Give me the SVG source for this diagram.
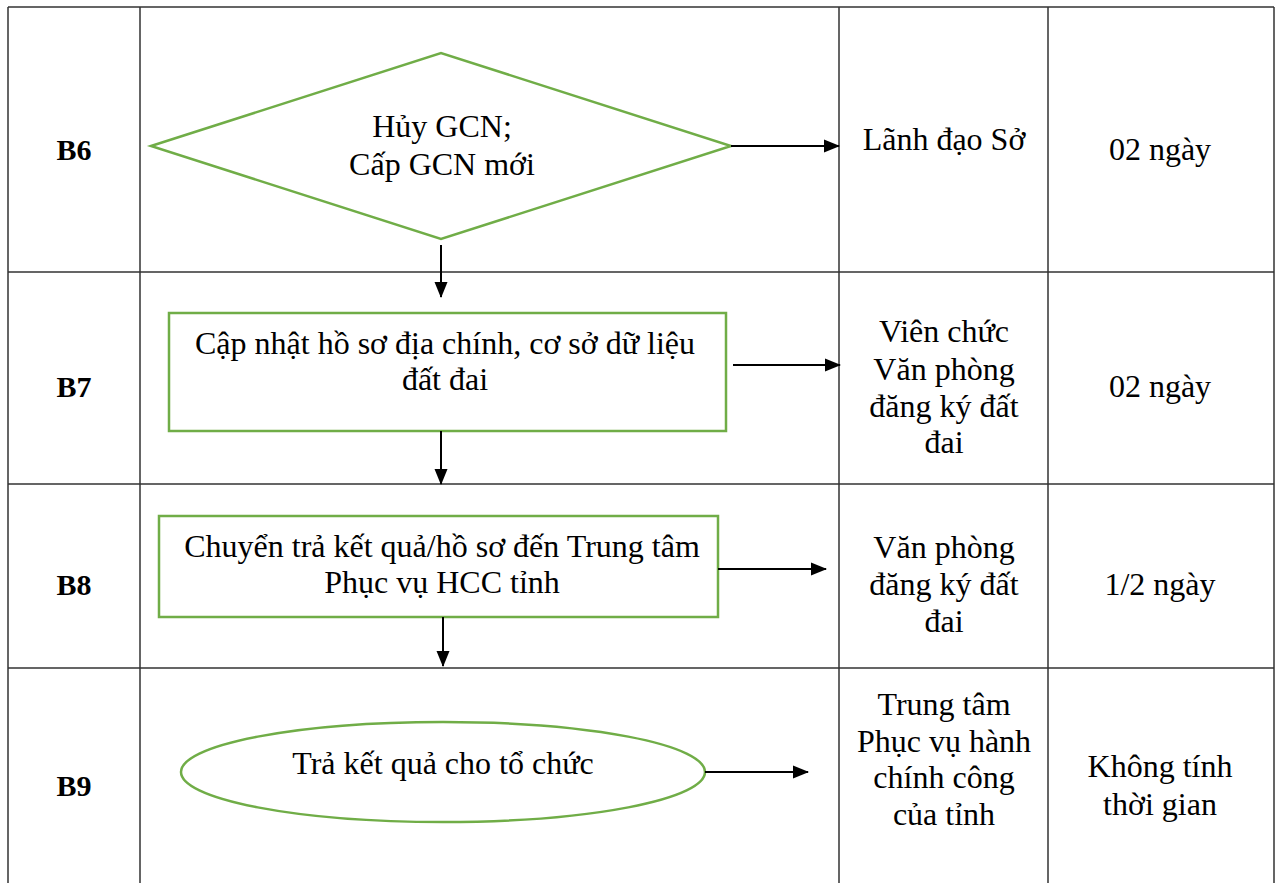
<svg xmlns="http://www.w3.org/2000/svg" width="1277" height="883" viewBox="0 0 1277 883">
<defs>
<marker id="ah" markerWidth="16" markerHeight="14" refX="15" refY="6.5" orient="auto" markerUnits="userSpaceOnUse" viewBox="0 0 16 13">
<path d="M0,0 L16,6.5 L0,13 Z" fill="#000"/>
</marker>
<style>
.grid{stroke:#333;stroke-width:1.5;fill:none}
.shape{fill:#fff;stroke:#70AD47;stroke-width:2.5}
.t{font-family:"Liberation Serif","Times New Roman",serif;font-size:32px;fill:#000;text-anchor:middle}
.b{font-weight:bold;font-size:30px}
.c{stroke:#000;stroke-width:2;fill:none;marker-end:url(#ah)}
</style>
</defs>
<rect width="1277" height="883" fill="#fff"/>
<g id="table">
<path class="grid" d="M8,7 H1274 M8,7 V883 M140,7 V883 M839,7 V883 M1048,7 V883 M1274,7 V883 M8,272 H1274 M8,484 H1274 M8,668 H1274"/>
</g>
<g id="labels">
<text class="t b" x="74" y="160">B6</text>
<text class="t b" x="74" y="397">B7</text>
<text class="t b" x="74" y="595">B8</text>
<text class="t b" x="74" y="796">B9</text>
</g>
<g id="n6">
<polygon class="shape" points="151,146 441,53 731,146 441,239"/>
<text class="t" x="442" y="137">Hủy GCN;</text>
<text class="t" x="442" y="175">Cấp GCN mới</text>
</g>
<g id="n7">
<rect class="shape" x="169" y="313" width="557" height="118"/>
<text class="t" x="445" y="354">Cập nhật hồ sơ địa chính, cơ sở dữ liệu</text>
<text class="t" x="445" y="390">đất đai</text>
</g>
<g id="n8">
<rect class="shape" x="159" y="516" width="559" height="101"/>
<text class="t" x="442" y="557">Chuyển trả kết quả/hồ sơ đến Trung tâm</text>
<text class="t" x="442" y="593">Phục vụ HCC tỉnh</text>
</g>
<g id="n9">
<ellipse class="shape" cx="443" cy="772" rx="262" ry="50"/>
<text class="t" x="443" y="774">Trả kết quả cho tổ chức</text>
</g>
<g id="actors">
<text class="t" x="944" y="150">Lãnh đạo Sở</text>
<text class="t" x="944" y="342">Viên chức</text>
<text class="t" x="944" y="380">Văn phòng</text>
<text class="t" x="944" y="417">đăng ký đất</text>
<text class="t" x="944" y="453">đai</text>
<text class="t" x="944" y="558">Văn phòng</text>
<text class="t" x="944" y="595">đăng ký đất</text>
<text class="t" x="944" y="632">đai</text>
<text class="t" x="944" y="715">Trung tâm</text>
<text class="t" x="944" y="752">Phục vụ hành</text>
<text class="t" x="944" y="788">chính công</text>
<text class="t" x="944" y="825">của tỉnh</text>
</g>
<g id="times">
<text class="t" x="1160" y="160">02 ngày</text>
<text class="t" x="1160" y="397">02 ngày</text>
<text class="t" x="1160" y="595">1/2 ngày</text>
<text class="t" x="1160" y="777">Không tính</text>
<text class="t" x="1160" y="815">thời gian</text>
</g>
<g id="connectors">
<line class="c" x1="731" y1="146" x2="839" y2="146"/>
<line class="c" x1="441" y1="245" x2="441" y2="297"/>
<line class="c" x1="733" y1="365" x2="840" y2="365"/>
<line class="c" x1="441" y1="431" x2="441" y2="484"/>
<line class="c" x1="718" y1="569" x2="826" y2="569"/>
<line class="c" x1="443" y1="617" x2="443" y2="666"/>
<line class="c" x1="705" y1="772" x2="808" y2="772"/>
</g>
</svg>
